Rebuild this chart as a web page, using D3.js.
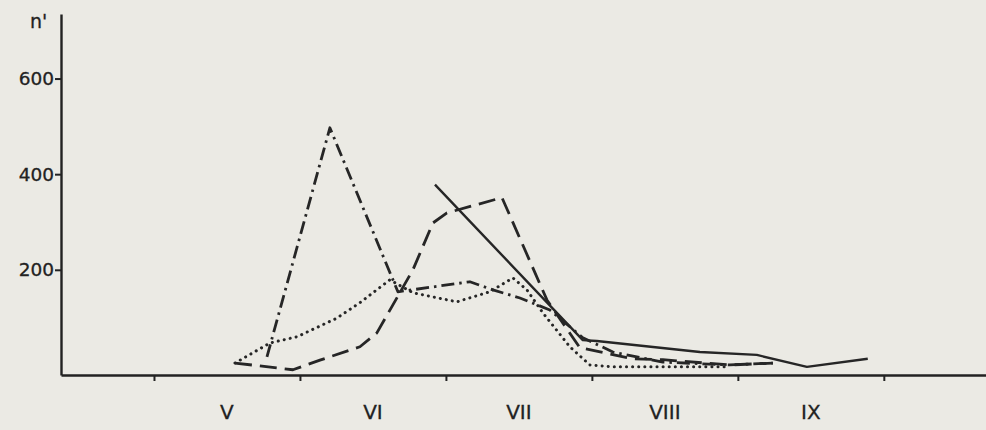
<!DOCTYPE html>
<html lang="en">
    <head>
        <meta charset="utf-8">
        <title>n' par mois</title>
        <script src="https://d3js.org/d3.v7.min.js"></script>
        <style>
            body { margin: 0; background: #ebeae4; }
            svg { display: block; }
            .tick text { font-family: "DejaVu Sans", sans-serif; font-size: 18.5px; fill: #222; stroke: #222; stroke-width: 0.3px; }
        </style>
    </head>
    <body>
        <div class="chart"></div>
        <script type="text/javascript">
            // mois (chiffres romains) et graduations
            var months = ["V", "VI", "VII", "VIII", "IX"];
            var monthStart = [5, 6, 7, 8, 9, 10];
            var yTicks = [200, 400, 600];

            // séries : x en mois (fraction), y = n'
            var dottedX = [5.555, 5.795, 5.98, 6.253, 6.41, 6.616, 6.774, 7.075, 7.30, 7.459, 7.555, 7.664, 7.849, 7.986, 8.144, 8.945];
            var dottedY = [5, 47, 60, 99, 131, 179, 152, 133, 154, 183, 158, 110, 39, 1, -3, -3];

            var dashedX = [5.555, 5.952, 6.137, 6.411, 6.527, 6.774, 6.911, 7.007, 7.384, 7.692, 7.918, 8.281, 8.486, 8.945, 9.24];
            var dashedY = [5, -9, 11, 39, 68, 200, 298, 319, 351, 137, 37, 14, 12, 1, 5];

            var dashDotX = [5.774, 6.205, 6.671, 7.164, 7.322, 7.507, 7.712, 7.938, 8.144, 8.486, 8.945, 9.24];
            var dashDotY = [18, 497, 154, 175, 158, 141, 116, 58, 28, 7, 1, 5];

            var solidX = [6.925, 7.938, 8.034, 8.74, 9.13, 9.473, 9.89];
            var solidY = [378, 53, 51, 28, 22, -3, 14];

            var w = 986, h = 430;
            var svg = d3.select("div.chart").append("svg")
                .attr("width", w).attr("height", h);

            var x = d3.scaleLinear().domain([4.363, 10.7]).range([61, 986]);
            var y = d3.scaleLinear().domain([-20, 735]).range([375, 14]);

            // axe vertical
            svg.append("g")
                .attr("transform", "translate(" + x(4.363) + ",0)")
                .call(d3.axisLeft(y).tickValues(yTicks).tickSize(6).tickSizeOuter(0).tickPadding(1))
                .call(function(g) {
                    g.select(".domain").attr("stroke", "#222").attr("stroke-width", 2.4);
                    g.selectAll(".tick line").attr("stroke", "#222").attr("stroke-width", 2);
                });

            // axe horizontal
            svg.append("g")
                .attr("transform", "translate(0," + y(-20) + ")")
                .call(d3.axisBottom(x).tickValues(monthStart).tickSize(6).tickSizeOuter(0).tickFormat(""))
                .call(function(g) {
                    g.select(".domain").attr("stroke", "#222").attr("stroke-width", 2.4);
                    g.selectAll(".tick line").attr("stroke", "#222").attr("stroke-width", 2);
                });

            // noms des mois, au milieu de chaque intervalle
            svg.selectAll("text.month")
                .data(months)
                .enter()
                .append("text")
                .attr("class", "month")
                .attr("x", function(d, i) { return x(monthStart[i] + 0.5); })
                .attr("y", 419)
                .attr("text-anchor", "middle")
                .attr("font-family", "'DejaVu Sans', sans-serif")
                .attr("font-size", 20)
                .attr("fill", "#222")
                .attr("stroke", "#222")
                .attr("stroke-width", 0.3)
                .text(function(d) { return d; });

            svg.append("text")
                .attr("x", 30).attr("y", 28)
                .attr("font-family", "'DejaVu Sans', sans-serif")
                .attr("font-size", 19)
                .attr("fill", "#222")
                .attr("stroke", "#222")
                .attr("stroke-width", 0.3)
                .text("n'");

            var line = d3.line()
                .x(function(d) { return x(d[0]); })
                .y(function(d) { return y(d[1]); });

            var series = [
                { xs: dottedX, ys: dottedY, dash: "0.1 6", width: 3, cap: "round" },
                { xs: dashedX, ys: dashedY, dash: "17 8", width: 2.8, cap: "butt" },
                { xs: dashDotX, ys: dashDotY, dash: "13 5 2.5 5", width: 2.8, cap: "butt" },
                { xs: solidX, ys: solidY, dash: null, width: 2.4, cap: "butt" }
            ];

            svg.selectAll("path.serie")
                .data(series)
                .enter()
                .append("path")
                .attr("class", "serie")
                .attr("fill", "none")
                .attr("stroke", "#262626")
                .attr("stroke-width", function(d) { return d.width; })
                .attr("stroke-linecap", function(d) { return d.cap; })
                .attr("stroke-linejoin", "round")
                .attr("stroke-dasharray", function(d) { return d.dash; })
                .attr("d", function(d) { return line(d3.zip(d.xs, d.ys)); });
        </script>
    </body>
</html>
